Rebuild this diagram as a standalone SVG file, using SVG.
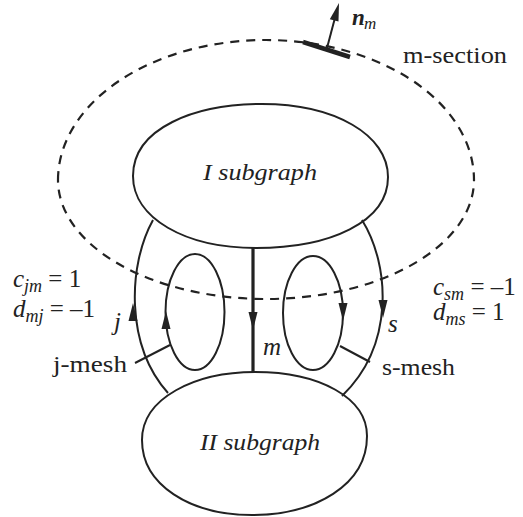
<svg xmlns="http://www.w3.org/2000/svg" width="523" height="517" viewBox="0 0 523 517">
<defs>
<path id="ah" d="M0,0 L4.5,18 L-4.5,18 Z" fill="#222"/>
</defs>
<rect width="523" height="517" fill="#fff"/>
<g id="m-section">
<path d="M58,180 A208,140 0 0 1 474,180 A208,119 0 0 1 58,180 Z" fill="none" stroke="#222" stroke-width="2.2" stroke-dasharray="9,7"/>
<path d="M303,42 L350,57" stroke="#222" stroke-width="4.5" fill="none"/>
<path d="M327,48 L336,14" fill="none" stroke="#222" stroke-width="2"/>
<use href="#ah" transform="translate(339,3) rotate(15.6)"/>
<text x="352" y="25" fill="#222" font-family="Times New Roman" font-weight="bold" font-style="italic" font-size="23">n</text>
<text x="364" y="29" fill="#222" font-family="Times New Roman" font-style="italic" font-size="17">m</text>
<text x="403" y="63" fill="#222" font-family="Times New Roman" font-size="24" textLength="104" lengthAdjust="spacingAndGlyphs">m-section</text>
</g>
<g id="subgraph-I">
<path d="M133,176 C133,128 195,104 262,104 C335,104 388,135 388,177 C388,222 330,248 256,248 C185,248 133,218 133,176 Z" fill="none" stroke="#222" stroke-width="2"/>
<text x="203" y="180" fill="#222" font-family="Times New Roman" font-style="italic" font-size="24" textLength="114" lengthAdjust="spacingAndGlyphs">I subgraph</text>
</g>
<g id="subgraph-II">
<path d="M142,440 C142,398 195,372 255,372 C320,372 367,398 367,436 C367,485 315,515 252,515 C190,515 142,485 142,440 Z" fill="none" stroke="#222" stroke-width="2"/>
<text x="200" y="450" fill="#222" font-family="Times New Roman" font-style="italic" font-size="24" textLength="120" lengthAdjust="spacingAndGlyphs">II subgraph</text>
</g>
<g id="connectors" fill="none" stroke="#222" stroke-width="2">
<path d="M153,220 C128,265 125,345 168,393"/>
<path d="M362,220 C390,265 395,345 342,396"/>
<path d="M253,248 L253,372" stroke-width="3.2"/>
<ellipse cx="195" cy="312" rx="29.5" ry="58"/>
<ellipse cx="313" cy="313" rx="30" ry="57"/>
<use href="#ah" transform="translate(133,303)" stroke="none"/>
<use href="#ah" transform="translate(166,311)" stroke="none"/>
<use href="#ah" transform="translate(253,330) rotate(180)" stroke="none"/>
<use href="#ah" transform="translate(343,321) rotate(180)" stroke="none"/>
<use href="#ah" transform="translate(383,318) rotate(180)" stroke="none"/>
<path d="M135,363 L170,345"/>
<path d="M340,346 L370,362"/>
</g>
<g id="labels" fill="#222">
<text x="114" y="330" font-family="Times New Roman" font-style="italic" font-size="25">j</text>
<text x="388" y="332" font-family="Times New Roman" font-style="italic" font-size="25">s</text>
<text x="263" y="355" font-family="Times New Roman" font-style="italic" font-size="25">m</text>
<text x="53" y="372" font-family="Times New Roman" font-size="24" textLength="74" lengthAdjust="spacingAndGlyphs">j-mesh</text>
<text x="382" y="375" font-family="Times New Roman" font-size="24" textLength="73" lengthAdjust="spacingAndGlyphs">s-mesh</text>
<text x="13" y="287" font-family="Times New Roman" font-size="25"><tspan font-style="italic">c</tspan><tspan font-style="italic" font-size="18" dy="5">jm</tspan><tspan dy="-5"> = 1</tspan></text>
<text x="13" y="317" font-family="Times New Roman" font-size="25"><tspan font-style="italic">d</tspan><tspan font-style="italic" font-size="18" dy="5">mj</tspan><tspan dy="-5"> = –1</tspan></text>
<text x="433" y="295" font-family="Times New Roman" font-size="25"><tspan font-style="italic">c</tspan><tspan font-style="italic" font-size="18" dy="5">sm</tspan><tspan dy="-5"> = –1</tspan></text>
<text x="433" y="320" font-family="Times New Roman" font-size="25"><tspan font-style="italic">d</tspan><tspan font-style="italic" font-size="18" dy="5">ms</tspan><tspan dy="-5"> = 1</tspan></text>
</g>
</svg>
